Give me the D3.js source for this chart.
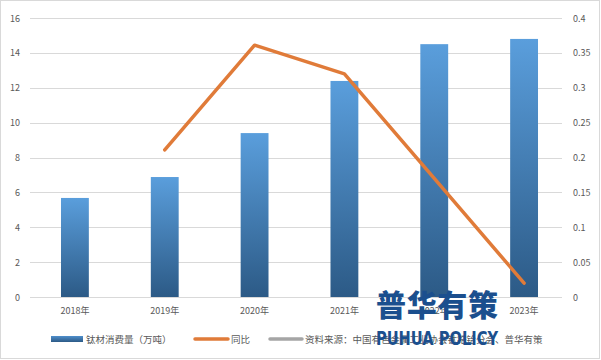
<!DOCTYPE html>
<html>
<head>
<meta charset="utf-8">
<script src="https://cdn.jsdelivr.net/npm/d3@7"></script>
<style>
  body { margin: 0; background: #fff; }
  text { font-family: "Microsoft YaHei", "Noto Sans CJK SC", "DejaVu Sans", sans-serif; }
</style>
</head>
<body>
<div id="chart"></div>
<script>
var years = ["2018年", "2019年", "2020年", "2021年", "2022年", "2023年"];
var consumption = [5.68, 6.88, 9.4, 12.39, 14.5, 14.8];
var yoy = [null, 0.211, 0.361, 0.32, 0.17, 0.02];
var leftTicks = [0, 2, 4, 6, 8, 10, 12, 14, 16];
var rightTicks = [0, 0.05, 0.1, 0.15, 0.2, 0.25, 0.3, 0.35, 0.4];

var width = 601, height = 360;
var margin = { top: 18, right: 39, bottom: 63, left: 30 };

var svg = d3.select("#chart").append("svg")
  .attr("width", width)
  .attr("height", height);

svg.append("rect")
  .attr("x", 0.5).attr("y", 0.5)
  .attr("width", width - 2).attr("height", height - 2)
  .attr("fill", "#fff")
  .attr("stroke", "#d9d9d9");

var defs = svg.append("defs");
var grad = defs.append("linearGradient")
  .attr("id", "barGrad")
  .attr("x1", 0).attr("y1", 0).attr("x2", 0).attr("y2", 1);
grad.append("stop").attr("offset", "0%").attr("stop-color", "#5a9edc");
grad.append("stop").attr("offset", "100%").attr("stop-color", "#2c5a86");

var legGrad = defs.append("linearGradient")
  .attr("id", "legGrad")
  .attr("x1", 0).attr("y1", 0).attr("x2", 0).attr("y2", 1);
legGrad.append("stop").attr("offset", "0%").attr("stop-color", "#4f8fcc");
legGrad.append("stop").attr("offset", "100%").attr("stop-color", "#2c5a86");

var x = d3.scaleBand()
  .domain(years)
  .range([margin.left, width - margin.right + 7])
  .paddingInner(0.69)
  .paddingOuter(0.345);

var y = d3.scaleLinear().domain([0, 16]).range([height - margin.bottom, margin.top]);
var y2 = d3.scaleLinear().domain([0, 0.4]).range([height - margin.bottom, margin.top]);

// gridlines
svg.append("g")
  .selectAll("line")
  .data(leftTicks)
  .enter().append("line")
  .attr("x1", margin.left)
  .attr("x2", 562)
  .attr("y1", function (d) { return Math.round(y(d)) + 0.5; })
  .attr("y2", function (d) { return Math.round(y(d)) + 0.5; })
  .attr("stroke", "#d9d9d9");

// left labels
svg.append("g")
  .selectAll("text")
  .data(leftTicks)
  .enter().append("text")
  .attr("x", 20)
  .attr("y", function (d) { return y(d) + 3.5; })
  .attr("text-anchor", "end")
  .style("font-size", "9px")
  .style("fill", "#595959")
  .text(function (d) { return d; });

// right labels
svg.append("g")
  .selectAll("text")
  .data(rightTicks)
  .enter().append("text")
  .attr("x", 573)
  .attr("y", function (d) { return y2(d) + 3.5; })
  .attr("text-anchor", "start")
  .style("font-size", "9px")
  .style("fill", "#595959")
  .text(function (d) { return d; });

// bars
svg.append("g")
  .selectAll("rect")
  .data(consumption)
  .enter().append("rect")
  .attr("x", function (d, i) { return x(years[i]); })
  .attr("y", function (d) { return y(d); })
  .attr("width", x.bandwidth())
  .attr("height", function (d) { return y(0) - y(d); })
  .attr("fill", "url(#barGrad)");

// category labels
svg.append("g")
  .selectAll("text")
  .data(years)
  .enter().append("text")
  .attr("x", function (d) { return x(d) + x.bandwidth() / 2; })
  .attr("y", 314)
  .attr("text-anchor", "middle")
  .style("font-size", "9px")
  .style("fill", "#595959")
  .text(function (d) { return d; });

// yoy line
var line = d3.line()
  .defined(function (d) { return d !== null; })
  .x(function (d, i) { return x(years[i]) + x.bandwidth() / 2; })
  .y(function (d) { return y2(d); });

svg.append("path")
  .datum(yoy)
  .attr("d", line)
  .attr("fill", "none")
  .attr("stroke", "#e07b39")
  .attr("stroke-width", 3.5)
  .attr("stroke-linecap", "round")
  .attr("stroke-linejoin", "round");

// legend
var leg = svg.append("g");
leg.append("rect")
  .attr("x", 51).attr("y", 336)
  .attr("width", 32).attr("height", 6)
  .attr("fill", "url(#legGrad)");
leg.append("text")
  .attr("x", 86).attr("y", 343)
  .style("font-size", "9.5px").style("fill", "#595959")
  .text("钛材消费量（万吨）");
leg.append("line")
  .attr("x1", 195).attr("x2", 228)
  .attr("y1", 339).attr("y2", 339)
  .attr("stroke", "#e07b39").attr("stroke-width", 3.5)
  .attr("stroke-linecap", "round");
leg.append("text")
  .attr("x", 231).attr("y", 343)
  .style("font-size", "9.5px").style("fill", "#595959")
  .text("同比");
leg.append("line")
  .attr("x1", 270).attr("x2", 302)
  .attr("y1", 339).attr("y2", 339)
  .attr("stroke", "#a5a5a5").attr("stroke-width", 3.5)
  .attr("stroke-linecap", "round");
leg.append("text")
  .attr("x", 305).attr("y", 343)
  .style("font-size", "9.5px").style("fill", "#595959")
  .text("资料来源：中国有色金属工业协会钛锆铪分会、普华有策");

// watermark
svg.append("text")
  .attr("x", 437).attr("y", 316)
  .attr("text-anchor", "middle")
  .style("font-size", "30px").style("font-weight", "900")
  .style("fill", "#1b4f8e")
  .attr("textLength", 122)
  .text("普华有策");
svg.append("text")
  .attr("x", 437).attr("y", 345)
  .attr("text-anchor", "middle")
  .style("font-size", "19px").style("font-weight", "bold")
  .style("font-family", "'DejaVu Sans', sans-serif")
  .style("fill", "#1b4f8e")
  .attr("textLength", 122)
  .attr("lengthAdjust", "spacingAndGlyphs")
  .text("PUHUA POLICY");
</script>
</body>
</html>
